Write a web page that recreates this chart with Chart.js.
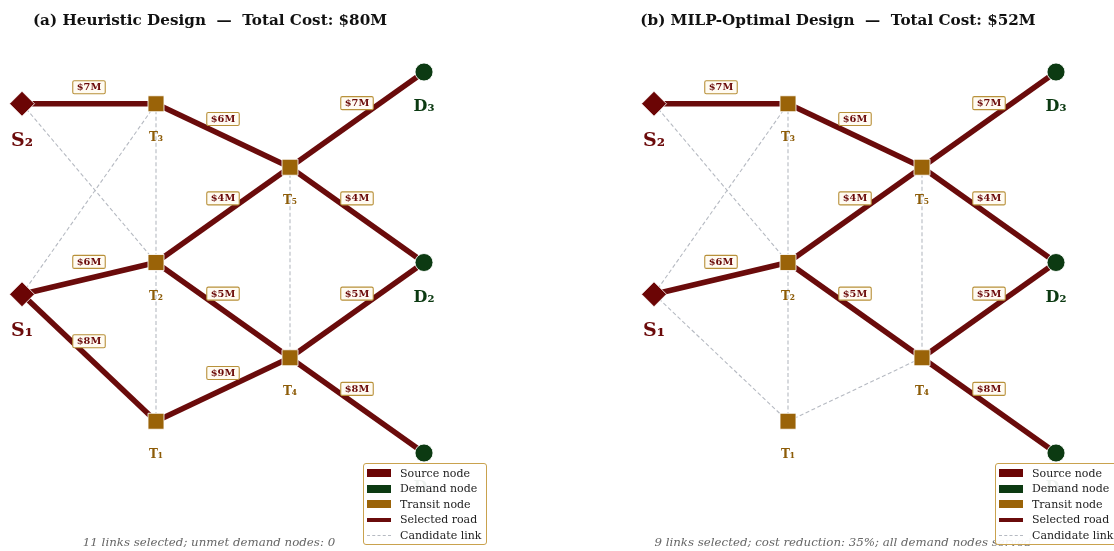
<!DOCTYPE html>
<html>
<head>
<meta charset="utf-8">
<script src="https://cdn.jsdelivr.net/npm/chart.js@4.4.1/dist/chart.umd.min.js"></script>
<style>
  body { margin: 0; background: #fff; }
  #wrap { position: relative; width: 1114px; height: 551px; overflow: hidden; background: #fff; font-family: "DejaVu Serif", serif; }
  canvas { position: absolute; top: 0; }
  .title { position: absolute; top: 11px; width: 520px; text-align: center; font-weight: bold; font-size: 15.2px; line-height: 18px; color: #111; white-space: pre; }
  .foot { position: absolute; top: 535px; width: 600px; text-align: center; font-style: italic; font-size: 11.8px; line-height: 14px; color: #666; white-space: pre; }
  .legend { position: absolute; top: 463px; width: 122px; height: 80px; border: 1.5px solid #c9a24e; border-radius: 3px; background: rgba(255,255,255,0.93); font-size: 11px; color: #222; }
  .row { position: absolute; left: 3px; height: 15px; width: 118px; }
  .sw { position: absolute; left: 0; width: 24px; }
  .lbl { position: absolute; left: 33px; top: 0; line-height: 15px; white-space: nowrap; }
</style>
</head>
<body>
<div id="wrap">
  <canvas id="cA" width="632" height="551" style="left:0;width:632px;height:551px"></canvas>
  <canvas id="cB" width="482" height="551" style="left:632px;width:482px;height:551px"></canvas>
</div>
<script>
// ---------------- DATA ----------------
const nodeIds    = ['S1', 'S2', 'T1', 'T2', 'T3', 'T4', 'T5', 'D1', 'D2', 'D3'];
const nodeLabels = ['S₁', 'S₂', 'T₁', 'T₂', 'T₃', 'T₄', 'T₅', 'D₁', 'D₂', 'D₃'];
const nodeTypes  = ['source', 'source', 'transit', 'transit', 'transit', 'transit', 'transit', 'demand', 'demand', 'demand'];
const nodeX      = [0, 0, 1, 1, 1, 2, 2, 3, 3, 3];
const nodeY      = [2.5, 5.5, 0.5, 3, 5.5, 1.5, 4.5, 0, 3, 6];

// candidate links (from, to, cost in $M; null = no cost shown)
const linkFrom = ['S2', 'T3', 'T2', 'T5', 'T5', 'S1', 'T2', 'S1', 'T1', 'T4', 'T4', 'S2', 'S1', 'T3', 'T2', 'T5'];
const linkTo   = ['T3', 'T5', 'T5', 'D3', 'D2', 'T2', 'T4', 'T1', 'T4', 'D2', 'D1', 'T2', 'T3', 'T2', 'T1', 'T4'];
const linkCost = [7, 6, 4, 7, 4, 6, 5, 8, 9, 5, 8, null, null, null, null, null];

// selected links per design (indices into link arrays)
const heuristicSelected = [0, 1, 2, 3, 4, 5, 6, 7, 8, 9, 10];
const milpSelected      = [0, 1, 2, 3, 4, 5, 6, 9, 10];

const panelTitles = ['(a) Heuristic Design  —  Total Cost: $80M', '(b) MILP-Optimal Design  —  Total Cost: $52M'];
const panelNotes  = ['11 links selected; unmet demand nodes: 0', '9 links selected; cost reduction: 35%; all demand nodes served'];

const legendLabels = ['Source node', 'Demand node', 'Transit node', 'Selected road', 'Candidate link'];

// ---------------- STYLE ----------------
const COLORS = { source: '#6b0505', transit: '#9a6308', demand: '#0c3a12', road: '#6a0b0b', cand: '#b6bac2' };
const LABEL_COLORS = { source: '#6b0a0a', transit: '#8d5c08', demand: '#0c3a12' };
const LABEL_FONT = { source: 'bold 19px "DejaVu Serif"', transit: 'bold 12px "DejaVu Serif"', demand: 'bold 16px "DejaVu Serif"' };
const LABEL_DY = { source: 37, transit: 34, demand: 35 };
const POINT_STYLE = { source: ['rectRot', 12.5], transit: ['rect', 11.3], demand: ['circle', 9] };

// layout (pixels per data unit, origin pixel)
const PX = 134, PY = 63.5, X0 = 22, Y0 = 453, H = 551;

const idx = id => nodeIds.indexOf(id);

function roundRect(ctx, x, y, w, h, r) {
  ctx.beginPath();
  ctx.moveTo(x + r, y);
  ctx.lineTo(x + w - r, y); ctx.quadraticCurveTo(x + w, y, x + w, y + r);
  ctx.lineTo(x + w, y + h - r); ctx.quadraticCurveTo(x + w, y + h, x + w - r, y + h);
  ctx.lineTo(x + r, y + h); ctx.quadraticCurveTo(x, y + h, x, y + h - r);
  ctx.lineTo(x, y + r); ctx.quadraticCurveTo(x, y, x + r, y);
  ctx.closePath();
}

const labelPlugin = {
  id: 'netLabels',
  afterDatasetsDraw(chart, args, opts) {
    const { ctx } = chart;
    const xs = chart.scales.x, ys = chart.scales.y;
    ctx.save();
    // cost labels on selected links
    ctx.font = 'bold 9.8px "DejaVu Serif"';
    ctx.textAlign = 'center';
    ctx.textBaseline = 'middle';
    opts.selected.forEach(i => {
      if (linkCost[i] == null) return;
      const a = idx(linkFrom[i]), b = idx(linkTo[i]);
      const mx = (xs.getPixelForValue(nodeX[a]) + xs.getPixelForValue(nodeX[b])) / 2;
      const my = (ys.getPixelForValue(nodeY[a]) + ys.getPixelForValue(nodeY[b])) / 2 - 16.5;
      const txt = '$' + linkCost[i] + 'M';
      const w = ctx.measureText(txt).width + 8, h = 13;
      roundRect(ctx, mx - w / 2, my - h / 2, w, h, 1.5);
      ctx.fillStyle = '#fffbf2';
      ctx.fill();
      ctx.lineWidth = 1.1;
      ctx.strokeStyle = '#b8913a';
      ctx.stroke();
      ctx.fillStyle = '#6b0a0a';
      ctx.fillText(txt, mx, my + 0.5);
    });
    // node labels
    nodeIds.forEach((id, i) => {
      const t = nodeTypes[i];
      ctx.font = LABEL_FONT[t];
      ctx.fillStyle = LABEL_COLORS[t];
      ctx.fillText(nodeLabels[i], xs.getPixelForValue(nodeX[i]), ys.getPixelForValue(nodeY[i]) + LABEL_DY[t]);
    });
    ctx.restore();
  }
};

function linkData(i) {
  const a = idx(linkFrom[i]), b = idx(linkTo[i]);
  return [{ x: nodeX[a], y: nodeY[a] }, { x: nodeX[b], y: nodeY[b] }];
}

function makePanel(canvasId, width, selected) {
  const datasets = [];
  // nodes
  ['source', 'transit', 'demand'].forEach(t => {
    const pts = [];
    nodeIds.forEach((id, i) => { if (nodeTypes[i] === t) pts.push({ x: nodeX[i], y: nodeY[i] }); });
    datasets.push({
      type: 'scatter', data: pts, order: 0, clip: false,
      pointStyle: POINT_STYLE[t][0], pointRadius: POINT_STYLE[t][1],
      backgroundColor: COLORS[t], borderColor: 'rgba(255,255,255,0.85)', borderWidth: 1
    });
  });
  // selected roads
  selected.forEach(i => {
    datasets.push({
      type: 'scatter', data: linkData(i), showLine: true, order: 1, clip: false,
      borderColor: COLORS.road, borderWidth: 5.5, pointRadius: 0, borderCapStyle: 'butt'
    });
  });
  // candidate links (not selected)
  linkFrom.forEach((f, i) => {
    if (selected.includes(i)) return;
    datasets.push({
      type: 'scatter', data: linkData(i), showLine: true, order: 2, clip: false,
      borderColor: COLORS.cand, borderWidth: 1.1, borderDash: [4, 2.5], pointRadius: 0
    });
  });

  return new Chart(document.getElementById(canvasId), {
    type: 'scatter',
    data: { datasets },
    options: {
      responsive: false, animation: false, devicePixelRatio: 1, events: [],
      layout: { padding: 0, autoPadding: false },
      scales: {
        x: { type: 'linear', display: false, min: -X0 / PX, max: (width - X0) / PX },
        y: { type: 'linear', display: false, min: (Y0 - H) / PY, max: Y0 / PY }
      },
      plugins: { legend: { display: false }, tooltip: { enabled: false }, netLabels: { selected } }
    },
    plugins: [labelPlugin]
  });
}

makePanel('cA', 632, heuristicSelected);
makePanel('cB', 482, milpSelected);

// ---------------- HTML texts & legends ----------------
const wrap = document.getElementById('wrap');
const panelOffsets = [0, 632];
const titleCenters = [210, 838];
const noteCenters = [209, 843];

function legendSwatch(k) {
  const s = document.createElement('div');
  s.className = 'sw';
  if (k < 3) {
    s.style.top = '3.5px'; s.style.height = '8px';
    s.style.background = [COLORS.source, COLORS.demand, COLORS.transit][k];
  } else if (k === 3) {
    s.style.top = '5.5px'; s.style.height = '4px'; s.style.background = COLORS.road;
  } else {
    s.style.top = '7px'; s.style.height = '0'; s.style.borderTop = '1px dashed ' + COLORS.cand;
  }
  return s;
}

[0, 1].forEach(p => {
  const t = document.createElement('div');
  t.className = 'title';
  t.style.left = (titleCenters[p] - 260) + 'px';
  t.textContent = panelTitles[p];
  wrap.appendChild(t);

  const n = document.createElement('div');
  n.className = 'foot';
  n.style.left = (noteCenters[p] - 300) + 'px';
  n.textContent = panelNotes[p];
  wrap.appendChild(n);

  const lg = document.createElement('div');
  lg.className = 'legend';
  lg.style.left = (363 + panelOffsets[p]) + 'px';
  legendLabels.forEach((lab, k) => {
    const r = document.createElement('div');
    r.className = 'row';
    r.style.top = (1.5 + k * 15.5) + 'px';
    r.appendChild(legendSwatch(k));
    const l = document.createElement('div');
    l.className = 'lbl';
    l.textContent = lab;
    r.appendChild(l);
    lg.appendChild(r);
  });
  wrap.appendChild(lg);
});
</script>
</body>
</html>
